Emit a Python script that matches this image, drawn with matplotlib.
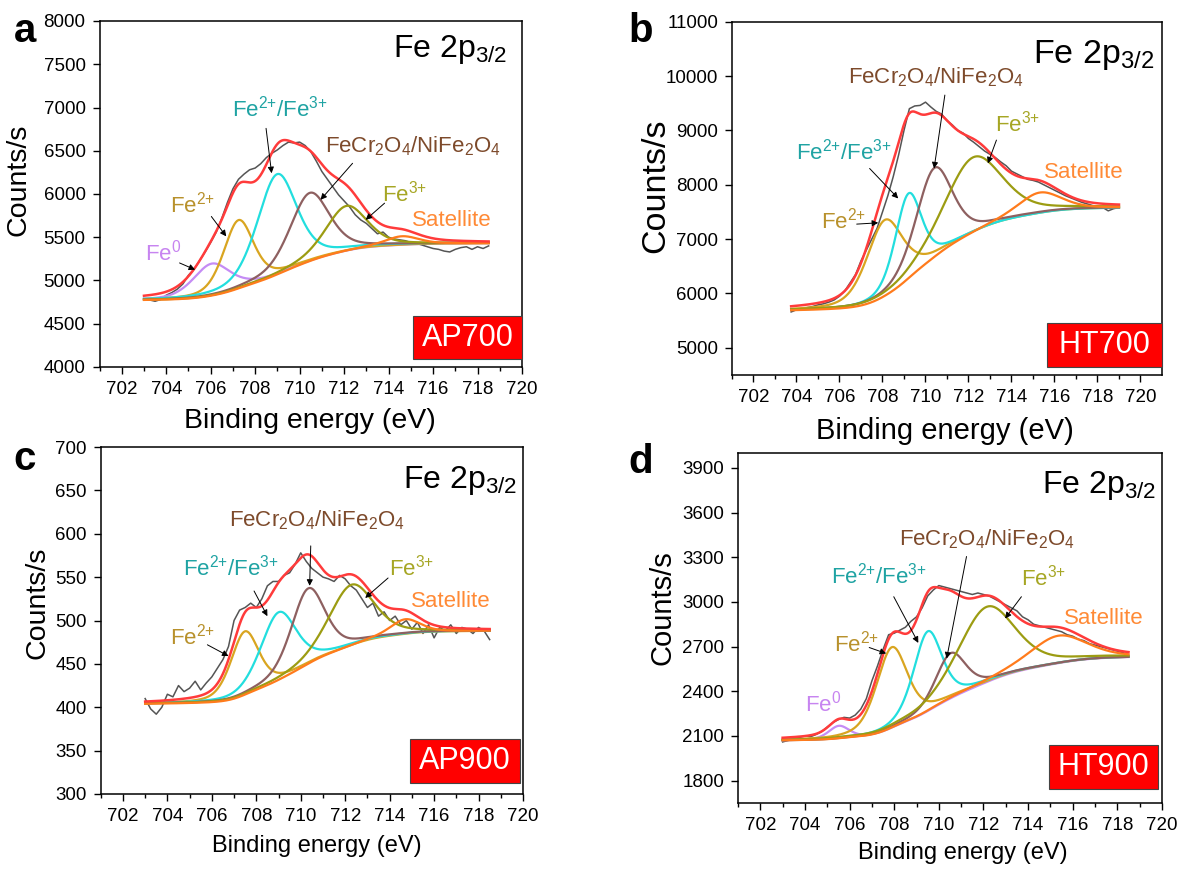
import numpy as np
import matplotlib
matplotlib.use('Agg')
import matplotlib.pyplot as plt
from matplotlib.patches import Rectangle

plt.rcParams.update({
    'font.family': ['Liberation Sans', 'DejaVu Sans'],
    'mathtext.fontset': 'custom',
    'mathtext.rm': 'Liberation Sans',
    'mathtext.it': 'Liberation Sans:italic',
    'mathtext.bf': 'Liberation Sans:bold',
})

# ---------------- data ----------------
comp_labels = ['Fe0', 'Fe2+', 'Fe2+/Fe3+', 'FeCr2O4/NiFe2O4', 'Fe3+', 'Satellite']

# Panel a: AP700
a_raw_start, a_raw_step = 703.0, 0.25
a_raw_counts = [4790, 4775, 4760, 4780, 4830, 4860, 4900, 4960, 5060, 5130, 5230, 5330,
                5440, 5560, 5720, 5900, 6060, 6170, 6230, 6280, 6300, 6350, 6420, 6470,
                6510, 6560, 6600, 6590, 6600, 6560, 6490, 6380, 6260, 6170, 6080, 5990,
                5920, 5850, 5760, 5700, 5660, 5600, 5540, 5560, 5500, 5480, 5470, 5460,
                5440, 5430, 5410, 5390, 5370, 5360, 5340, 5330, 5360, 5380, 5390, 5360,
                5390, 5370, 5400]
a_fit_range = (703.0, 718.5)
a_peak_centers = [706.05, 707.25, 708.98, 710.45, 712.1, 714.6]
a_peak_heights = [370, 790, 1160, 790, 520, 100]
a_peak_fwhm = [2.0, 1.6, 2.1, 2.1, 2.2, 1.8]
a_bg = (4775, 5430)

# Panel b: HT700
b_raw_start, b_raw_step = 703.75, 0.25
b_raw_counts = [5660, 5700, 5720, 5740, 5760, 5790, 5810, 5840, 5880, 5950, 6050, 6200,
                6350, 6600, 6800, 7000, 7200, 7500, 7800, 8150, 8550, 9000, 9400, 9450,
                9460, 9520, 9430, 9350, 9300, 9180, 9100, 9000, 8950, 8850, 8780, 8700,
                8620, 8560, 8500, 8420, 8350, 8250, 8200, 8150, 8100, 8080, 8050, 8000,
                7950, 7900, 7850, 7800, 7760, 7720, 7680, 7650, 7620, 7600, 7580, 7520,
                7560, 7580]
b_fit_range = (703.75, 719.0)
b_peak_centers = [None, 708.1, 709.2, 710.4, 712.2, 715.3]
b_peak_heights = [0, 1400, 1565, 1645, 1393, 380]
b_peak_fwhm = [1.0, 2.0, 1.45, 2.0, 3.2, 2.4]
b_bg = (5690, 7575)

# Panel c: AP900
c_raw_start, c_raw_step = 703.0, 0.25
c_raw_counts = [410, 398, 392, 400, 415, 412, 425, 418, 422, 430, 420, 428, 435, 445,
                455, 470, 500, 512, 515, 520, 515, 525, 540, 545, 545, 552, 555, 565,
                578, 568, 560, 555, 550, 548, 545, 552, 548, 540, 535, 525, 515, 520,
                505, 510, 500, 505, 495, 500, 490, 498, 485, 495, 480, 492, 488, 495,
                485, 492, 490, 485, 492, 488, 478]
c_fit_range = (703.0, 718.5)
c_peak_centers = [None, 707.48, 709.0, 710.33, 712.27, 714.7]
c_peak_heights = [0, 73, 78, 87, 70, 17]
c_peak_fwhm = [1.0, 1.5, 1.9, 1.8, 2.4, 1.6]
c_bg = (404, 488)

# Panel d: HT900
d_raw_start, d_raw_step = 703.0, 0.25
d_raw_counts = [2060, 2070, 2080, 2090, 2100, 2095, 2110, 2130, 2160, 2190, 2210, 2225,
                2220, 2240, 2280, 2350, 2470, 2570, 2680, 2780, 2790, 2810, 2830, 2870,
                2900, 2960, 3040, 3080, 3110, 3100, 3090, 3080, 3070, 3060, 3050, 3060,
                3050, 3040, 3020, 3000, 2980, 2960, 2940, 2900, 2880, 2850, 2840, 2830,
                2820, 2810, 2800, 2780, 2770, 2750, 2740, 2720, 2710, 2700, 2690, 2680,
                2670, 2660, 2640]
d_fit_range = (703.0, 718.5)
d_peak_centers = [705.52, 707.89, 709.5, 710.52, 712.13, 715.34]
d_peak_heights = [85, 541, 535, 303, 505, 184]
d_peak_fwhm = [1.1, 1.65, 1.5, 1.6, 3.0, 3.0]
d_bg = (2070, 2630)

# ---------------- styling ----------------
line_colors = ['#c58cf5', '#d9a520', '#22dede', '#8e6060', '#9c9c12', '#ff7b1c']
text_colors = ['#c784f0', '#b8912c', '#1fa3a3', '#7d4a2b', '#a6a624', '#ff8a36']
label_tex = ['Fe$^{0}$', 'Fe$^{2{+}}$', 'Fe$^{2{+}}$/Fe$^{3{+}}$',
             'FeCr$_{2}$O$_{4}$/NiFe$_{2}$O$_{4}$', 'Fe$^{3{+}}$', 'Satellite']

W, H = 1185, 869
fig = plt.figure(figsize=(W / 100, H / 100), dpi=100)


def add_axes_px(l, t, r, b):
    return fig.add_axes([l / W, 1 - b / H, (r - l) / W, (b - t) / H])


def pv(x, c, h, w, m=0.4):
    g = np.exp(-4 * np.log(2) * ((x - c) / w) ** 2)
    lo = 1.0 / (1 + 4 * ((x - c) / w) ** 2)
    return h * ((1 - m) * g + m * lo)


def draw_panel(ax, raw_start, raw_step, raw_counts, fit_range, centers, heights, fwhm, bg,
               labels, arrows):
    raw_x = raw_start + raw_step * np.arange(len(raw_counts))
    ax.plot(raw_x, raw_counts, color='#555555', lw=1.1, zorder=2)
    x = np.linspace(fit_range[0], fit_range[1], 600)
    comps = []
    for c, h, w in zip(centers, heights, fwhm):
        comps.append(np.zeros_like(x) if c is None else pv(x, c, h, w))
    total = np.sum(comps, axis=0)
    cum = np.cumsum(total)
    back = bg[0] + (bg[1] - bg[0]) * cum / cum[-1]
    for i, comp in enumerate(comps):
        if centers[i] is None:
            continue
        ax.plot(x, back + comp, color=line_colors[i], lw=1.6, zorder=3 + i * 0.1)
    ax.plot(x, back + total, color='#ff3b3b', lw=1.8, zorder=4)
    for i, (lx, ly) in labels.items():
        ax.text(lx, ly, label_tex[i], color=text_colors[i], fontsize=16,
                ha='center', va='center', zorder=6)
    for tail, tip in arrows:
        ax.annotate('', xy=tip, xytext=tail, zorder=6,
                    arrowprops=dict(arrowstyle='-|>', color='black', lw=0.7,
                                    mutation_scale=9, shrinkA=0, shrinkB=0))


def style_axes(ax, ylim, yticks, xlim, title_pos, title_size, box, box_text, ylab_coords,
               xlab_coords, ylab_size, xlab_size, tick_size=13.5):
    ax.set_xlim(*xlim)
    ax.set_ylim(*ylim)
    ax.set_xticks(np.arange(702, 721, 2))
    ax.set_xticks(np.arange(701, 721, 1), minor=True)
    ax.set_yticks(yticks)
    ax.tick_params(axis='both', which='major', direction='out', length=5, width=1.0,
                   labelsize=tick_size, pad=5)
    ax.tick_params(axis='x', which='minor', direction='out', length=3, width=1.0)
    for s in ax.spines.values():
        s.set_linewidth(1.1)
    ax.set_xlabel('Binding energy (eV)', fontsize=xlab_size)
    ax.set_ylabel('Counts/s', fontsize=ylab_size)
    ax.xaxis.set_label_coords(*xlab_coords)
    ax.yaxis.set_label_coords(*ylab_coords)
    ax.text(title_pos[0], title_pos[1], r'$\mathrm{Fe\ 2p}_{3/2}$', transform=ax.transAxes,
            fontsize=title_size, ha='right', va='baseline')
    bx0, by0, bx1, by1 = box
    ax.add_patch(Rectangle((bx0, by0), bx1 - bx0, by1 - by0, transform=ax.transAxes,
                           facecolor='#ff0000', edgecolor='#444444', lw=0.8, zorder=7,
                           clip_on=False))
    ax.text((bx0 + bx1) / 2, (by0 + by1) / 2, box_text, transform=ax.transAxes,
            color='white', fontsize=22, ha='center', va='center', zorder=8)


# ---- panel a ----
ax = add_axes_px(99.5, 21, 522, 367)
draw_panel(ax, a_raw_start, a_raw_step, a_raw_counts, a_fit_range, a_peak_centers,
           a_peak_heights, a_peak_fwhm, a_bg,
           {0: (703.85, 5318), 1: (705.2, 5875), 2: (709.1, 6990), 3: (715.1, 6548),
            4: (714.7, 6010), 5: (716.85, 5695)},
           [((704.6, 5203), (705.3, 5125)), ((706.03, 5740), (706.7, 5510)),
            ((708.49, 6759), (708.74, 6240)), ((712.38, 6355), (710.94, 5933)),
            ((713.82, 5894), (712.97, 5702))])
style_axes(ax, (4000, 8000), np.arange(4000, 8001, 500), (701, 720), (0.964, 0.895), 23,
           (0.742, 0.023, 1.0, 0.147), 'AP700', (-0.16, 0.54), (0.498, -0.118), 20.5, 20.5)

# ---- panel b ----
ax = add_axes_px(732, 21.7, 1162, 375)
draw_panel(ax, b_raw_start, b_raw_step, b_raw_counts, b_fit_range, b_peak_centers,
           b_peak_heights, b_peak_fwhm, b_bg,
           {1: (706.2, 7350), 2: (706.2, 8607), 3: (710.47, 9975), 4: (714.3, 9117),
            5: (717.35, 8221)},
           [((706.8, 7276), (707.8, 7300)), ((707.4, 8300), (708.73, 7748)),
            ((710.9, 9650), (710.4, 8300)), ((713.3, 8822), (712.9, 8393))])
style_axes(ax, (4500, 11000), np.arange(5000, 11001, 1000), (702, 721), (0.981, 0.883), 24.5,
           (0.733, 0.023, 1.0, 0.147), 'HT700', (-0.142, 0.535), (0.495, -0.118), 24.5, 21)

# ---- panel c ----
ax = add_axes_px(100.7, 447, 523, 794)
draw_panel(ax, c_raw_start, c_raw_step, c_raw_counts, c_fit_range, c_peak_centers,
           c_peak_heights, c_peak_fwhm, c_bg,
           {1: (705.15, 481), 2: (706.85, 561), 3: (710.75, 616), 4: (714.97, 561),
            5: (716.75, 522)},
           [((705.8, 472), (706.75, 459)), ((707.9, 534), (708.5, 505)),
            ((710.45, 586), (710.4, 540)), ((713.93, 549), (712.9, 526))])
style_axes(ax, (300, 700), np.arange(300, 701, 50), (701, 720), (0.986, 0.882), 23,
           (0.732, 0.032, 0.993, 0.158), 'AP900', (-0.118, 0.55), (0.512, -0.118), 20.5, 17)

# ---- panel d ----
ax = add_axes_px(738, 453, 1162, 803)
draw_panel(ax, d_raw_start, d_raw_step, d_raw_counts, d_fit_range, d_peak_centers,
           d_peak_heights, d_peak_fwhm, d_bg,
           {0: (704.8, 2317), 1: (706.3, 2721), 2: (707.3, 3175), 3: (712.15, 3424),
            4: (714.7, 3166), 5: (717.4, 2889)},
           [((706.88, 2694), (707.64, 2654)), ((707.98, 3035), (709.08, 2725)),
            ((711.24, 3305), (710.35, 2620)), ((713.7, 3035), (712.97, 2889))])
style_axes(ax, (1650, 4000), np.arange(1800, 3901, 300), (701, 720), (0.986, 0.886), 23,
           (0.733, 0.04, 0.991, 0.166), 'HT900', (-0.144, 0.557), (0.53, -0.112), 21, 17)

# panel letters
for lx, ly, s in [(14, 42, 'a'), (628, 42, 'b'), (13, 470, 'c'), (628, 473, 'd')]:
    fig.text(lx / W, 1 - ly / H, s, fontsize=29, fontweight='bold', ha='left', va='baseline')

fig.savefig('out.png', dpi=100)
